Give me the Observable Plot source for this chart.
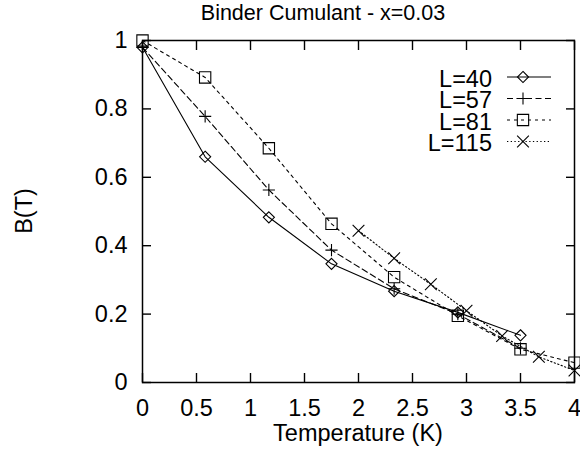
<!DOCTYPE html>
<html><head><meta charset="utf-8">
<script src="https://cdn.jsdelivr.net/npm/d3@7"></script>
<script src="https://cdn.jsdelivr.net/npm/@observablehq/plot@0.6"></script>
<style>
html,body{margin:0;padding:0;background:#fff;}
#chart{width:580px;height:449px;overflow:hidden;}
</style></head><body><div id="chart"></div>
<script>
// ---- data ----
const title = "Binder Cumulant - x=0.03";
const xLabel = "Temperature (K)";
const yLabel = "B(T)";
const xTicks = [0, 0.5, 1, 1.5, 2, 2.5, 3, 3.5, 4];
const yTicks = [0, 0.2, 0.4, 0.6, 0.8, 1];
const seriesNames = ["L=40", "L=57", "L=81", "L=115"];
const T40 = [0, 0.58, 1.17, 1.75, 2.33, 2.92, 3.5];
const B40 = [0.98, 0.66, 0.483, 0.347, 0.267, 0.205, 0.138];
const T57 = [0, 0.58, 1.17, 1.75, 2.33, 2.92, 3.5];
const B57 = [0.98, 0.778, 0.563, 0.387, 0.274, 0.2, 0.1];
const T81 = [0, 0.58, 1.17, 1.75, 2.33, 2.92, 3.5, 4.0];
const B81 = [1.0, 0.892, 0.685, 0.464, 0.308, 0.195, 0.097, 0.058];
const T115 = [2.0, 2.33, 2.67, 3.0, 3.33, 3.67, 4.0];
const B115 = [0.444, 0.363, 0.287, 0.21, 0.136, 0.075, 0.035];

// ---- styles ----
const FONT = "'Liberation Sans', Arial, Helvetica, sans-serif";
const FS = 23.5;
const styles = [
  {symbol: "diamond2", d3s: d3.symbolDiamond2, r: 5, dash: null},
  {symbol: "plus", d3s: d3.symbolPlus, r: 4, dash: "6,3.5"},
  {symbol: "square2", d3s: d3.symbolSquare2, r: 7.2, dash: "3,4"},
  {symbol: "times", d3s: d3.symbolTimes, r: 5.4, dash: "1.3,2.4"}
];
const Ts = [T40, T57, T81, T115];
const Bs = [B40, B57, B81, B115];
const series = seriesNames.map((name, i) => Ts[i].map((t, j) => ({series: name, T: t, B: Bs[i][j]})));

const seriesMarks = [];
series.forEach((rows, i) => {
  const s = styles[i];
  seriesMarks.push(Plot.line(rows, {x: "T", y: "B", stroke: "black", strokeWidth: 1.1, strokeDasharray: s.dash}));
});
series.forEach((rows, i) => {
  const s = styles[i];
  seriesMarks.push(Plot.dot(rows, {x: "T", y: "B", symbol: () => s.symbol, r: s.r, stroke: "black", fill: "none", strokeWidth: 1.1}));
});

function legendMark(index, scales, values, dims) {
  const g = d3.create("svg:g").attr("font-family", FONT).attr("font-size", FS).attr("fill", "black");
  const right = dims.width - dims.marginRight;
  const top = dims.marginTop;
  seriesNames.forEach((name, i) => {
    const s = styles[i];
    const y = top + 37 + i * 21.5;
    g.append("text").attr("x", right - 82).attr("y", y + 1.5).attr("text-anchor", "end").attr("dy", "0.35em").text(name);
    g.append("line").attr("x1", right - 67).attr("x2", right - 23).attr("y1", y).attr("y2", y)
      .attr("stroke", "black").attr("stroke-width", 1.1).attr("stroke-dasharray", s.dash);
    g.append("path").attr("d", d3.symbol(s.d3s, Math.PI * s.r * s.r)())
      .attr("transform", `translate(${right - 51},${y})`).attr("fill", "none").attr("stroke", "black").attr("stroke-width", 1.1);
  });
  return g.node();
}

function labelsMark(index, scales, values, dims) {
  const g = d3.create("svg:g").attr("font-family", FONT).attr("fill", "black");
  const cx = (dims.marginLeft + dims.width - dims.marginRight) / 2;
  const cy = (dims.marginTop + dims.height - dims.marginBottom) / 2;
  g.append("text").attr("x", cx - 35).attr("y", 20).attr("text-anchor", "middle").attr("font-size", 21.5).text(title);
  g.append("text").attr("x", cx).attr("y", dims.height - 8).attr("text-anchor", "middle").attr("font-size", FS).text(xLabel);
  g.append("text").attr("transform", `translate(${dims.marginLeft - 110.5},${cy}) rotate(-90)`)
    .attr("text-anchor", "middle").attr("font-size", FS).text(yLabel);
  return g.node();
}

const chart = Plot.plot({
  width: 580,
  height: 449,
  marginLeft: 142,
  marginRight: 6,
  marginTop: 40,
  marginBottom: 67,
  style: {fontFamily: FONT, fontSize: FS + "px", color: "black", background: "white"},
  x: {domain: [0, 4]},
  y: {domain: [0, 1]},
  marks: [
    Plot.frame({stroke: "black", strokeWidth: 1.5}),
    Plot.axisX({ticks: xTicks, tickSize: -9, tickPadding: 26, tickFormat: d => String(d), label: null, strokeWidth: 1.4}),
    Plot.axisX({anchor: "top", ticks: xTicks, tickSize: -9, tickFormat: () => "", label: null, strokeWidth: 1.4}),
    Plot.axisY({ticks: yTicks, tickSize: -9, tickPadding: 24, tickFormat: d => String(d), label: null, strokeWidth: 1.4}),
    Plot.axisY({anchor: "right", ticks: yTicks, tickSize: -9, tickFormat: () => "", label: null, strokeWidth: 1.4}),
    ...seriesMarks,
    labelsMark,
    legendMark
  ]
});
document.getElementById("chart").appendChild(chart);
</script>
</body></html>
